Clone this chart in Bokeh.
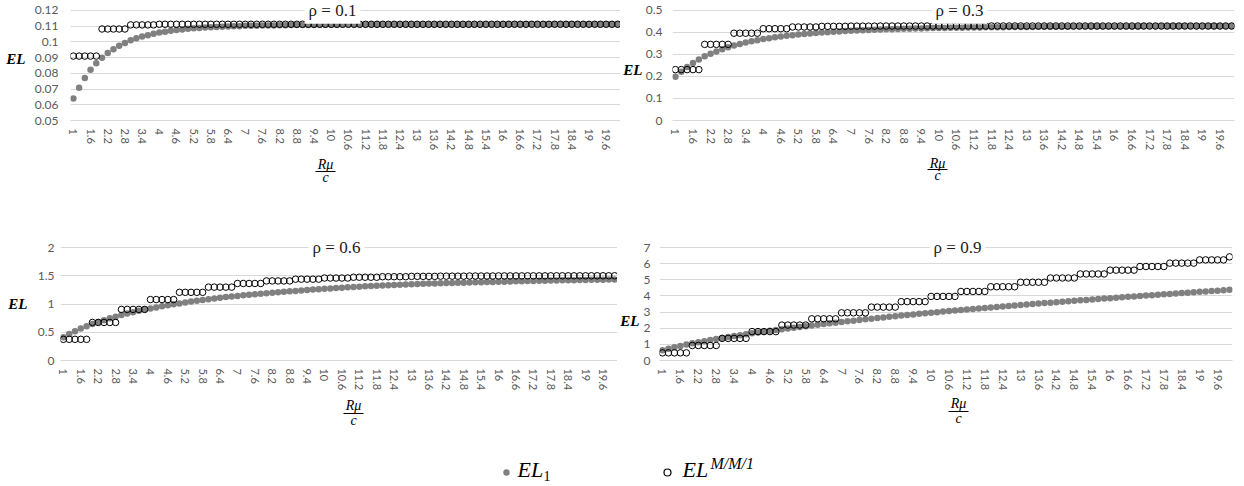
from bokeh.plotting import figure
from bokeh.layouts import column, row
from bokeh.models import (FixedTicker, NumeralTickFormatter, Label, Range1d,
                          LinearAxis, CustomJSTickFormatter)
from bokeh.core.properties import value
from bokeh.embed import file_html
from bokeh.resources import INLINE

# R*mu/c values on the horizontal axis
x_vals = [
    1.0, 1.2, 1.4, 1.6, 1.8,
    2.0, 2.2, 2.4, 2.6, 2.8,
    3.0, 3.2, 3.4, 3.6, 3.8,
    4.0, 4.2, 4.4, 4.6, 4.8,
    5.0, 5.2, 5.4, 5.6, 5.8,
    6.0, 6.2, 6.4, 6.6, 6.8,
    7.0, 7.2, 7.4, 7.6, 7.8,
    8.0, 8.2, 8.4, 8.6, 8.8,
    9.0, 9.2, 9.4, 9.6, 9.8,
    10.0, 10.2, 10.4, 10.6, 10.8,
    11.0, 11.2, 11.4, 11.6, 11.8,
    12.0, 12.2, 12.4, 12.6, 12.8,
    13.0, 13.2, 13.4, 13.6, 13.8,
    14.0, 14.2, 14.4, 14.6, 14.8,
    15.0, 15.2, 15.4, 15.6, 15.8,
    16.0, 16.2, 16.4, 16.6, 16.8,
    17.0, 17.2, 17.4, 17.6, 17.8,
    18.0, 18.2, 18.4, 18.6, 18.8,
    19.0, 19.2, 19.4, 19.6, 19.8,
    20.0,
]

# labelled categories on the horizontal axis
x_tick_vals = [1, 1.6, 2.2, 2.8, 3.4, 4, 4.6, 5.2, 5.8, 6.4, 7, 7.6, 8.2, 8.8,
               9.4, 10, 10.6, 11.2, 11.8, 12.4, 13, 13.6, 14.2, 14.8, 15.4, 16,
               16.6, 17.2, 17.8, 18.4, 19, 19.6]

# ---- rho = 0.1 ----
el1_r01 = [
    0.0640, 0.0708, 0.0770, 0.0822, 0.0863,
    0.0899, 0.0929, 0.0953, 0.0974, 0.0992,
    0.1009, 0.1022, 0.1033, 0.1042, 0.1051,
    0.1058, 0.1064, 0.1070, 0.1074, 0.1078,
    0.1082, 0.1085, 0.1088, 0.1090, 0.1092,
    0.1094, 0.1096, 0.1097, 0.1098, 0.1099,
    0.1101, 0.1101, 0.1102, 0.1103, 0.1104,
    0.1104, 0.1105, 0.1105, 0.1106, 0.1106,
    0.1107, 0.1107, 0.1107, 0.1108, 0.1108,
    0.1108, 0.1108, 0.1109, 0.1109, 0.1109,
    0.1109, 0.1109, 0.1109, 0.1110, 0.1110,
    0.1110, 0.1110, 0.1110, 0.1110, 0.1110,
    0.1110, 0.1110, 0.1110, 0.1110, 0.1110,
    0.1110, 0.1110, 0.1110, 0.1110, 0.1110,
    0.1110, 0.1110, 0.1110, 0.1110, 0.1110,
    0.1111, 0.1111, 0.1111, 0.1111, 0.1111,
    0.1111, 0.1111, 0.1111, 0.1111, 0.1111,
    0.1111, 0.1111, 0.1111, 0.1111, 0.1111,
    0.1111, 0.1111, 0.1111, 0.1111, 0.1111,
    0.1111,
]
mm1_r01 = [
    0.0909, 0.0909, 0.0909, 0.0909, 0.0909,
    0.1081, 0.1081, 0.1081, 0.1081, 0.1081,
    0.1107, 0.1107, 0.1107, 0.1107, 0.1107,
    0.1111, 0.1111, 0.1111, 0.1111, 0.1111,
    0.1111, 0.1111, 0.1111, 0.1111, 0.1111,
    0.1111, 0.1111, 0.1111, 0.1111, 0.1111,
    0.1111, 0.1111, 0.1111, 0.1111, 0.1111,
    0.1111, 0.1111, 0.1111, 0.1111, 0.1111,
    0.1111, 0.1111, 0.1111, 0.1111, 0.1111,
    0.1111, 0.1111, 0.1111, 0.1111, 0.1111,
    0.1111, 0.1111, 0.1111, 0.1111, 0.1111,
    0.1111, 0.1111, 0.1111, 0.1111, 0.1111,
    0.1111, 0.1111, 0.1111, 0.1111, 0.1111,
    0.1111, 0.1111, 0.1111, 0.1111, 0.1111,
    0.1111, 0.1111, 0.1111, 0.1111, 0.1111,
    0.1111, 0.1111, 0.1111, 0.1111, 0.1111,
    0.1111, 0.1111, 0.1111, 0.1111, 0.1111,
    0.1111, 0.1111, 0.1111, 0.1111, 0.1111,
    0.1111, 0.1111, 0.1111, 0.1111, 0.1111,
    0.1111,
]
y_ticks_r01 = [0.05, 0.06, 0.07, 0.08, 0.09, 0.1, 0.11, 0.12]

# ---- rho = 0.3 ----
el1_r03 = [
    0.1982, 0.2214, 0.2424, 0.2610, 0.2772,
    0.2910, 0.3027, 0.3134, 0.3233, 0.3323,
    0.3405, 0.3472, 0.3534, 0.3591, 0.3644,
    0.3693, 0.3734, 0.3773, 0.3808, 0.3841,
    0.3872, 0.3898, 0.3922, 0.3945, 0.3967,
    0.3987, 0.4006, 0.4023, 0.4040, 0.4055,
    0.4070, 0.4082, 0.4093, 0.4104, 0.4114,
    0.4124, 0.4133, 0.4142, 0.4150, 0.4157,
    0.4165, 0.4171, 0.4178, 0.4184, 0.4190,
    0.4195, 0.4200, 0.4204, 0.4208, 0.4212,
    0.4216, 0.4219, 0.4223, 0.4226, 0.4229,
    0.4231, 0.4234, 0.4237, 0.4239, 0.4241,
    0.4244, 0.4246, 0.4248, 0.4250, 0.4252,
    0.4253, 0.4255, 0.4256, 0.4258, 0.4259,
    0.4261, 0.4262, 0.4263, 0.4264, 0.4264,
    0.4265, 0.4266, 0.4267, 0.4268, 0.4268,
    0.4269, 0.4270, 0.4270, 0.4271, 0.4271,
    0.4272, 0.4273, 0.4273, 0.4274, 0.4274,
    0.4275, 0.4275, 0.4275, 0.4276, 0.4276,
    0.4277,
]
mm1_r03 = [
    0.2308, 0.2308, 0.2308, 0.2308, 0.2308,
    0.3453, 0.3453, 0.3453, 0.3453, 0.3453,
    0.3959, 0.3959, 0.3959, 0.3959, 0.3959,
    0.4164, 0.4164, 0.4164, 0.4164, 0.4164,
    0.4242, 0.4242, 0.4242, 0.4242, 0.4242,
    0.4270, 0.4270, 0.4270, 0.4270, 0.4270,
    0.4280, 0.4280, 0.4280, 0.4280, 0.4280,
    0.4284, 0.4284, 0.4284, 0.4284, 0.4284,
    0.4285, 0.4285, 0.4285, 0.4285, 0.4285,
    0.4286, 0.4286, 0.4286, 0.4286, 0.4286,
    0.4286, 0.4286, 0.4286, 0.4286, 0.4286,
    0.4286, 0.4286, 0.4286, 0.4286, 0.4286,
    0.4286, 0.4286, 0.4286, 0.4286, 0.4286,
    0.4286, 0.4286, 0.4286, 0.4286, 0.4286,
    0.4286, 0.4286, 0.4286, 0.4286, 0.4286,
    0.4286, 0.4286, 0.4286, 0.4286, 0.4286,
    0.4286, 0.4286, 0.4286, 0.4286, 0.4286,
    0.4286, 0.4286, 0.4286, 0.4286, 0.4286,
    0.4286, 0.4286, 0.4286, 0.4286, 0.4286,
    0.4286,
]
y_ticks_r03 = [0, 0.1, 0.2, 0.3, 0.4, 0.5]

# ---- rho = 0.6 ----
el1_r06 = [
    0.4127, 0.4676, 0.5184, 0.5650, 0.6074,
    0.6457, 0.6809, 0.7145, 0.7462, 0.7763,
    0.8046, 0.8312, 0.8560, 0.8792, 0.9005,
    0.9202, 0.9397, 0.9585, 0.9767, 0.9942,
    1.0110, 1.0272, 1.0427, 1.0576, 1.0718,
    1.0854, 1.0983, 1.1105, 1.1221, 1.1330,
    1.1433, 1.1530, 1.1626, 1.1720, 1.1811,
    1.1901, 1.1989, 1.2074, 1.2158, 1.2240,
    1.2320, 1.2397, 1.2473, 1.2547, 1.2619,
    1.2689, 1.2757, 1.2823, 1.2887, 1.2949,
    1.3009, 1.3068, 1.3124, 1.3178, 1.3230,
    1.3281, 1.3329, 1.3375, 1.3420, 1.3462,
    1.3503, 1.3541, 1.3578, 1.3613, 1.3645,
    1.3676, 1.3705, 1.3731, 1.3756, 1.3779,
    1.3800, 1.3828, 1.3855, 1.3882, 1.3908,
    1.3934, 1.3959, 1.3984, 1.4008, 1.4031,
    1.4054, 1.4077, 1.4099, 1.4121, 1.4142,
    1.4162, 1.4182, 1.4202, 1.4221, 1.4240,
    1.4258, 1.4275, 1.4292, 1.4309, 1.4325,
    1.4340,
]
mm1_r06 = [
    0.3750, 0.3750, 0.3750, 0.3750, 0.3750,
    0.6735, 0.6735, 0.6735, 0.6735, 0.6735,
    0.9044, 0.9044, 0.9044, 0.9044, 0.9044,
    1.0784, 1.0784, 1.0784, 1.0784, 1.0784,
    1.2064, 1.2064, 1.2064, 1.2064, 1.2064,
    1.2984, 1.2984, 1.2984, 1.2984, 1.2984,
    1.3633, 1.3633, 1.3633, 1.3633, 1.3633,
    1.4084, 1.4084, 1.4084, 1.4084, 1.4084,
    1.4392, 1.4392, 1.4392, 1.4392, 1.4392,
    1.4599, 1.4599, 1.4599, 1.4599, 1.4599,
    1.4738, 1.4738, 1.4738, 1.4738, 1.4738,
    1.4830, 1.4830, 1.4830, 1.4830, 1.4830,
    1.4890, 1.4890, 1.4890, 1.4890, 1.4890,
    1.4929, 1.4929, 1.4929, 1.4929, 1.4929,
    1.4955, 1.4955, 1.4955, 1.4955, 1.4955,
    1.4971, 1.4971, 1.4971, 1.4971, 1.4971,
    1.4982, 1.4982, 1.4982, 1.4982, 1.4982,
    1.4988, 1.4988, 1.4988, 1.4988, 1.4988,
    1.4993, 1.4993, 1.4993, 1.4993, 1.4993,
    1.4995,
]
y_ticks_r06 = [0, 0.5, 1, 1.5, 2]

# ---- rho = 0.9 ----
el1_r09 = [
    0.642, 0.733, 0.820, 0.904, 0.984,
    1.061, 1.132, 1.200, 1.267, 1.332,
    1.395, 1.455, 1.513, 1.571, 1.627,
    1.682, 1.735, 1.786, 1.838, 1.888,
    1.938, 1.985, 2.032, 2.079, 2.125,
    2.171, 2.214, 2.258, 2.301, 2.344,
    2.387, 2.427, 2.468, 2.508, 2.549,
    2.589, 2.627, 2.666, 2.704, 2.743,
    2.781, 2.817, 2.853, 2.890, 2.926,
    2.962, 2.995, 3.028, 3.062, 3.095,
    3.128, 3.160, 3.191, 3.223, 3.254,
    3.286, 3.316, 3.347, 3.377, 3.408,
    3.438, 3.467, 3.497, 3.526, 3.556,
    3.585, 3.613, 3.641, 3.670, 3.698,
    3.726, 3.753, 3.781, 3.808, 3.836,
    3.863, 3.890, 3.917, 3.943, 3.970,
    3.997, 4.023, 4.049, 4.075, 4.101,
    4.127, 4.152, 4.177, 4.203, 4.228,
    4.253, 4.278, 4.302, 4.327, 4.351,
    4.376,
]
mm1_r09 = [
    0.4737, 0.4737, 0.4737, 0.4737, 0.4737,
    0.9299, 0.9299, 0.9299, 0.9299, 0.9299,
    1.3687, 1.3687, 1.3687, 1.3687, 1.3687,
    1.7903, 1.7903, 1.7903, 1.7903, 1.7903,
    2.1948, 2.1948, 2.1948, 2.1948, 2.1948,
    2.5824, 2.5824, 2.5824, 2.5824, 2.5824,
    2.9534, 2.9534, 2.9534, 2.9534, 2.9534,
    3.3080, 3.3080, 3.3080, 3.3080, 3.3080,
    3.6466, 3.6466, 3.6466, 3.6466, 3.6466,
    3.9694, 3.9694, 3.9694, 3.9694, 3.9694,
    4.2769, 4.2769, 4.2769, 4.2769, 4.2769,
    4.5694, 4.5694, 4.5694, 4.5694, 4.5694,
    4.8472, 4.8472, 4.8472, 4.8472, 4.8472,
    5.1109, 5.1109, 5.1109, 5.1109, 5.1109,
    5.3608, 5.3608, 5.3608, 5.3608, 5.3608,
    5.5974, 5.5974, 5.5974, 5.5974, 5.5974,
    5.8212, 5.8212, 5.8212, 5.8212, 5.8212,
    6.0325, 6.0325, 6.0325, 6.0325, 6.0325,
    6.2319, 6.2319, 6.2319, 6.2319, 6.2319,
    6.4199,
]
y_ticks_r09 = [0, 1, 2, 3, 4, 5, 6, 7]

GRAY = "#808080"
GRID = "#d9d9d9"
TICK_TXT = "#595959"
SERIF = "Liberation Serif"
SANS = "Lato"

PLOT_H = 113     # pixel distance between lowest and highest gridline
HEADROOM = 10    # room above the top gridline for the panel title


def make_panel(title, el1, mm1, y_ticks, y_fmt, width, height, borders,
               tick_standoff, title_x, el_offset, el_standoff):
    left, right, top, bottom = borders
    y0, y1 = y_ticks[0], y_ticks[-1]
    per_px = (y1 - y0) / PLOT_H
    p = figure(width=width, height=height, title=None,
               x_range=Range1d(0.9, 20.1),
               y_range=Range1d(y0, y1 + HEADROOM * per_px),
               min_border_left=left, min_border_right=right,
               min_border_top=top, min_border_bottom=bottom,
               output_backend="svg", toolbar_location=None)
    p.outline_line_color = None
    p.background_fill_color = "white"
    p.border_fill_color = "white"

    p.xgrid.visible = False
    p.ygrid.grid_line_color = GRID
    p.ygrid.grid_line_width = 1

    xa = p.xaxis[0]
    xa.ticker = FixedTicker(ticks=x_tick_vals)
    xa.formatter = NumeralTickFormatter(format="0.[0]")
    xa.major_label_orientation = "vertical"
    xa.major_tick_line_color = None
    xa.minor_tick_line_color = None
    xa.major_tick_out = 0
    xa.minor_tick_out = 0
    xa.axis_line_color = GRID
    xa.major_label_standoff = 8
    xa.major_label_text_font = SANS
    xa.major_label_text_font_size = "11px"
    xa.major_label_text_color = TICK_TXT

    ya = p.yaxis[0]
    ya.ticker = FixedTicker(ticks=y_ticks)
    ya.formatter = NumeralTickFormatter(format=y_fmt)
    ya.axis_line_color = None
    ya.major_tick_line_color = None
    ya.minor_tick_line_color = None
    ya.major_tick_out = 0
    ya.minor_tick_out = 0
    ya.major_label_standoff = tick_standoff
    ya.major_label_text_font = SANS
    ya.major_label_text_font_size = "12px"
    ya.major_label_text_color = TICK_TXT

    # horizontal "EL" name of the vertical axis, as an outer axis with one label
    el_y = y1 - el_offset * per_px
    el_axis = LinearAxis(ticker=FixedTicker(ticks=[el_y]),
                         formatter=CustomJSTickFormatter(code="return 'EL'"),
                         axis_line_color=None, major_tick_line_color=None,
                         minor_tick_line_color=None, major_tick_out=0,
                         minor_tick_out=0,
                         major_label_standoff=el_standoff,
                         major_label_text_font=SERIF,
                         major_label_text_font_style="bold italic",
                         major_label_text_font_size="15px",
                         major_label_text_color="black")
    p.add_layout(el_axis, "left")

    # EL_1 first, hollow M/M/1 markers drawn over it
    p.scatter(x_vals, el1, marker="circle", size=6.5,
              fill_color=GRAY, line_color=None)
    p.scatter(x_vals, mm1, marker="circle", size=6.5,
              fill_color=None, line_color="black", line_width=1)

    p.add_layout(Label(x=title_x, y=y1, x_units="screen", y_units="data",
                       text=title, text_font=SERIF, text_font_size="17px",
                       text_color="#1a1a1a", text_align="center",
                       text_baseline="middle", background_fill_color="white",
                       padding=4))
    return p


def strip(height, y_top):
    s = figure(width=1244, height=height, title=None, x_range=Range1d(0, 1244),
               y_range=Range1d(y_top + height, y_top),
               x_axis_type=None, y_axis_type=None, min_border=0,
               output_backend="svg", toolbar_location=None)
    s.outline_line_color = None
    s.grid.visible = False
    return s


def fraction(s, cx, y_num, y_bar, y_den):
    s.text([cx], [y_num], text=["Rμ"], text_font=value(SERIF),
           text_font_style="italic", text_font_size="14px",
           text_align="center", text_baseline="middle", text_color="black")
    s.segment(x0=[cx - 10], y0=[y_bar], x1=[cx + 10], y1=[y_bar],
              line_color="black", line_width=1)
    s.text([cx], [y_den], text=["c"], text_font=value(SERIF),
           text_font_style="italic", text_font_size="14px",
           text_align="center", text_baseline="middle", text_color="black")


TOP_H = 153
p1 = make_panel("ρ = 0.1", el1_r01, mm1_r01, y_ticks_r01, "0.[00]",
                620, TOP_H, (70, 0, 0, 30), 12, 262, 50, 6)
p2 = make_panel("ρ = 0.3", el1_r03, mm1_r03, y_ticks_r03, "0.[0]",
                624, TOP_H, (48, 10, 0, 30), 10, 287, 61, 0)
p3 = make_panel("ρ = 0.6", el1_r06, mm1_r06, y_ticks_r06, "0.[0]",
                617, 160, (60, 0, 2, 35), 6, 276, 56, 7)
p4 = make_panel("ρ = 0.9", el1_r09, mm1_r09, y_ticks_r09, "0",
                627, 160, (38, 12, 2, 35), 9, 298, 73, 1)

# axis names under the upper panels
s1 = strip(235 - TOP_H, TOP_H)
fraction(s1, 325, 164, 171, 177)
fraction(s1, 937, 163, 169, 175)

# axis names under the lower panels, then the legend
s2 = strip(91, 395)
fraction(s2, 353, 405, 413, 420)
fraction(s2, 958, 403, 411, 418)

s2.scatter([506], [472], marker="circle", size=6.5, fill_color=GRAY,
           line_color=None)
s2.text([517], [469], text=["EL"], text_font=value(SERIF),
        text_font_style="italic", text_font_size="22px",
        text_baseline="middle", text_color="black")
s2.text([543], [475], text=["1"], text_font=value(SERIF),
        text_font_size="14px", text_baseline="middle", text_color="black")
s2.scatter([667], [472], marker="circle", size=7, fill_color=None,
           line_color="black", line_width=1.2)
s2.text([682], [469], text=["EL"], text_font=value(SERIF),
        text_font_style="italic", text_font_size="22px",
        text_baseline="middle", text_color="black")
s2.text([710], [463], text=["M/M/1"], text_font=value(SERIF),
        text_font_style="italic", text_font_size="16px",
        text_baseline="middle", text_color="black")

layout = column(row(p1, p2), s1, row(p3, p4), s2)

open("out.html", "w").write(file_html(layout, INLINE))
